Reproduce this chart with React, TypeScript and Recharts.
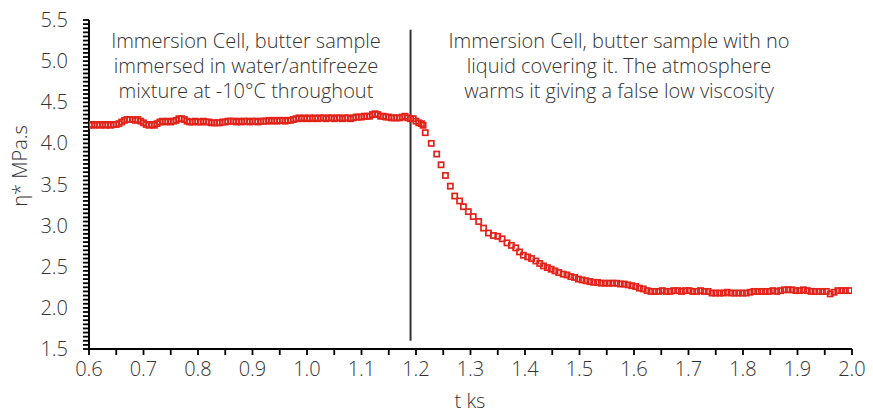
import React from "react";
import { ScatterChart, Scatter, XAxis, YAxis, ReferenceLine } from "recharts";

// Immersed phase (sample covered by water/antifreeze at -10 °C)
const immersedT = [
  0.600, 0.605, 0.610, 0.615, 0.620, 0.625, 0.630, 0.635, 0.640, 0.645,
  0.650, 0.655, 0.660, 0.665, 0.670, 0.675, 0.680, 0.685, 0.690, 0.695,
  0.700, 0.705, 0.710, 0.715, 0.720, 0.725, 0.730, 0.735, 0.740, 0.745,
  0.750, 0.755, 0.760, 0.765, 0.770, 0.775, 0.780, 0.785, 0.790, 0.795,
  0.800, 0.805, 0.810, 0.815, 0.820, 0.825, 0.830, 0.835, 0.840, 0.845,
  0.850, 0.855, 0.860, 0.865, 0.870, 0.875, 0.880, 0.885, 0.890, 0.895,
  0.900, 0.905, 0.910, 0.915, 0.920, 0.925, 0.930, 0.935, 0.940, 0.945,
  0.950, 0.955, 0.960, 0.965, 0.970, 0.975, 0.980, 0.985, 0.990, 0.995,
  1.000, 1.005, 1.010, 1.015, 1.020, 1.025, 1.030, 1.035, 1.040, 1.045,
  1.050, 1.055, 1.060, 1.065, 1.070, 1.075, 1.080, 1.085, 1.090, 1.095,
  1.100, 1.105, 1.110, 1.115, 1.120, 1.125, 1.130, 1.135, 1.140, 1.145,
  1.150, 1.155, 1.160, 1.165, 1.170, 1.175, 1.180, 1.185, 1.190,
];
const immersedEta = [
  4.22, 4.23, 4.22, 4.23, 4.22, 4.23, 4.22, 4.23, 4.22, 4.23,
  4.23, 4.24, 4.26, 4.28, 4.29, 4.29, 4.29, 4.28, 4.29, 4.27,
  4.25, 4.23, 4.22, 4.23, 4.22, 4.24, 4.26, 4.27, 4.26, 4.27,
  4.26, 4.27, 4.28, 4.30, 4.30, 4.29, 4.27, 4.26, 4.26, 4.27,
  4.26, 4.26, 4.27, 4.26, 4.26, 4.25, 4.25, 4.25, 4.25, 4.26,
  4.26, 4.27, 4.27, 4.27, 4.26, 4.27, 4.26, 4.27, 4.27, 4.26,
  4.27, 4.27, 4.26, 4.27, 4.27, 4.27, 4.28, 4.27, 4.28, 4.27,
  4.28, 4.28, 4.27, 4.28, 4.28, 4.29, 4.30, 4.31, 4.30, 4.31,
  4.30, 4.31, 4.30, 4.31, 4.30, 4.31, 4.31, 4.30, 4.31, 4.31,
  4.30, 4.31, 4.31, 4.30, 4.31, 4.31, 4.30, 4.31, 4.32, 4.32,
  4.32, 4.33, 4.33, 4.33, 4.35, 4.36, 4.35, 4.33, 4.33, 4.32,
  4.32, 4.31, 4.31, 4.31, 4.31, 4.32, 4.33, 4.31, 4.30,
];

// Exposed phase (no liquid covering, sample warms)
const exposedT = [
  1.195, 1.200, 1.205, 1.210, 1.213, 1.217, 1.228, 1.238, 1.246, 1.254,
  1.263, 1.271, 1.280, 1.287, 1.296, 1.305, 1.315, 1.324, 1.333, 1.342,
  1.350, 1.358, 1.367, 1.375, 1.383, 1.390, 1.397, 1.405, 1.412, 1.420,
  1.427, 1.434, 1.441, 1.448, 1.455, 1.462, 1.470, 1.477, 1.484, 1.491,
  1.498, 1.505, 1.512, 1.519, 1.526, 1.533, 1.540, 1.547, 1.554, 1.561,
  1.568, 1.575, 1.582, 1.589, 1.596, 1.603, 1.610, 1.617, 1.624, 1.631,
  1.638, 1.645, 1.652, 1.659, 1.666, 1.673, 1.680, 1.687, 1.694, 1.701,
  1.708, 1.715, 1.722, 1.729, 1.736, 1.743, 1.750, 1.757, 1.764, 1.771,
  1.778, 1.785, 1.792, 1.799, 1.806, 1.813, 1.820, 1.827, 1.834, 1.841,
  1.848, 1.855, 1.862, 1.869, 1.876, 1.883, 1.890, 1.897, 1.904, 1.911,
  1.918, 1.925, 1.932, 1.939, 1.946, 1.953, 1.960, 1.967, 1.974, 1.981,
  1.988, 1.995,
];
const exposedEta = [
  4.30, 4.27, 4.25, 4.24, 4.22, 4.13, 4.00, 3.87, 3.74, 3.61,
  3.48, 3.36, 3.30, 3.23, 3.17, 3.11, 3.05, 2.97, 2.91, 2.88,
  2.87, 2.84, 2.79, 2.76, 2.73, 2.68, 2.64, 2.62, 2.60, 2.57,
  2.54, 2.51, 2.49, 2.47, 2.45, 2.43, 2.41, 2.40, 2.38, 2.37,
  2.35, 2.34, 2.33, 2.32, 2.31, 2.31, 2.30, 2.30, 2.30, 2.30,
  2.30, 2.29, 2.29, 2.28, 2.27, 2.26, 2.24, 2.23, 2.21, 2.20,
  2.20, 2.20, 2.21, 2.20, 2.20, 2.21, 2.21, 2.20, 2.21, 2.21,
  2.20, 2.20, 2.21, 2.20, 2.20, 2.18, 2.18, 2.18, 2.18, 2.19,
  2.18, 2.18, 2.18, 2.18, 2.18, 2.19, 2.20, 2.20, 2.20, 2.20,
  2.20, 2.21, 2.20, 2.21, 2.22, 2.22, 2.22, 2.21, 2.21, 2.22,
  2.21, 2.20, 2.20, 2.20, 2.20, 2.20, 2.17, 2.19, 2.21, 2.21,
  2.21, 2.21,
];

const xTickLabels = ["0.6", "0.7", "0.8", "0.9", "1.0", "1.1", "1.2", "1.3", "1.4", "1.5", "1.6", "1.7", "1.8", "1.9", "2.0"];
const yTickLabels = ["1.5", "2.0", "2.5", "3.0", "3.5", "4.0", "4.5", "5.0", "5.5"];

const leftNote = ["Immersion Cell, butter sample", "immersed in water/antifreeze", "mixture at -10°C throughout"];
const rightNote = ["Immersion Cell, butter sample with no", "liquid covering it. The atmosphere", "warms it giving a false low viscosity"];

const changeoverT = 1.19;

const data = [
  ...immersedT.map((t, i) => ({ t, eta: immersedEta[i] })),
  ...exposedT.map((t, i) => ({ t, eta: exposedEta[i] })),
];

// x: a tick every 0.05 between labelled ticks
const xTicks: number[] = [];
xTickLabels.forEach((s, i) => {
  const v = parseFloat(s);
  xTicks.push(v);
  if (i < xTickLabels.length - 1) xTicks.push(Math.round((v + 0.05) * 100) / 100);
});
// y: a tick every 0.05 between labelled ticks
const yTicks: number[] = [];
yTickLabels.forEach((s, i) => {
  const v = parseFloat(s);
  if (i < yTickLabels.length - 1) {
    for (let k = 0; k < 10; k++) yTicks.push(Math.round((v + k * 0.05) * 100) / 100);
  } else yTicks.push(v);
});

const FONT = "'Open Sans', sans-serif";
const TEXT = "#333";
const RED = "#e2231a";

const isMultiple = (v: number, step: number) => Math.abs(v / step - Math.round(v / step)) < 1e-6;

const Square = (props: any) => {
  const { cx, cy } = props;
  if (cx == null || cy == null) return null;
  return <rect x={cx - 2.6} y={cy - 2.6} width={5.2} height={5.2} fill="none" stroke={RED} strokeWidth={1.7} />;
};

const tickStyle = { fill: TEXT, fontFamily: FONT, fontSize: 20, fontWeight: 300 };

const renderNotes = () => (
  <g fontFamily={FONT} fontWeight={300} fontSize={20} fill={TEXT}>
    {leftNote.map((s, i) => (
      <text key={"l" + i} x={246} y={48 + i * 25} textAnchor="middle">{s}</text>
    ))}
    {rightNote.map((s, i) => (
      <text key={"r" + i} x={619} y={48 + i * 25} textAnchor="middle">{s}</text>
    ))}
  </g>
);

const renderYLabel = () => (
  <text x={27} y={166} transform="rotate(-90 27 166)" textAnchor="middle" fontFamily={FONT} fontWeight={300} fontSize={20} fill={TEXT}>
    η* MPa.s
  </text>
);

const renderXLabel = () => (
  <text x={470} y={408} textAnchor="middle" fontFamily={FONT} fontWeight={300} fontSize={20} fill={TEXT}>
    t ks
  </text>
);

export default function App() {
  return (
    <div style={{ position: "absolute", left: 0, top: 0, width: 873, height: 414, background: "#fff" }}>
      <ScatterChart width={873} height={414} margin={{ top: 20, right: 21, bottom: 15, left: 0 }}>
        <XAxis
          type="number"
          dataKey="t"
          domain={[0.6, 2.0]}
          ticks={xTicks}
          interval={0}
          allowDataOverflow
          height={50}
          tickSize={6}
          tickMargin={7}
          axisLine={{ stroke: "#000", strokeWidth: 2 }}
          tickLine={{ stroke: "#000", strokeWidth: 1.8 }}
          tick={tickStyle}
          tickFormatter={(v: number) => (isMultiple(v, 0.1) ? v.toFixed(1) : "")}
          label={renderXLabel}
        />
        <YAxis
          type="number"
          dataKey="eta"
          domain={[1.5, 5.5]}
          ticks={yTicks}
          interval={0}
          allowDataOverflow
          width={89}
          tickSize={6}
          tickMargin={15}
          axisLine={{ stroke: "#000", strokeWidth: 2 }}
          tickLine={{ stroke: "#000", strokeWidth: 1.8 }}
          tick={tickStyle}
          tickFormatter={(v: number) => (isMultiple(v, 0.5) ? v.toFixed(1) : "")}
          label={renderYLabel}
        />
        <ReferenceLine
          segment={[{ x: changeoverT, y: 1.6 }, { x: changeoverT, y: 5.38 }]}
          stroke="#333"
          strokeWidth={2}
          label={renderNotes}
        />
        <Scatter data={data} shape={Square} isAnimationActive={false} />
      </ScatterChart>
    </div>
  );
}
